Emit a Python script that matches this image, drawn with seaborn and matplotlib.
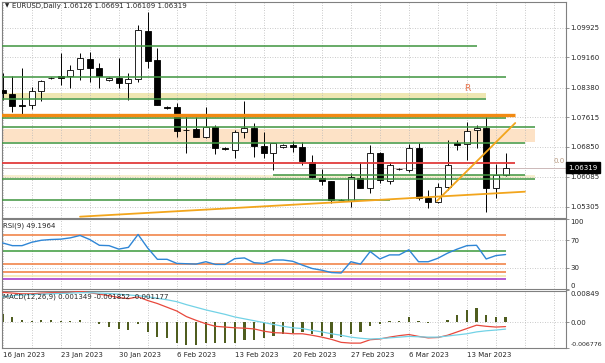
import matplotlib
matplotlib.use("Agg")
import matplotlib.pyplot as plt
import matplotlib.transforms as mtransforms
import seaborn as sns
import numpy as np
import pandas as pd

# Velas diarias EURUSD 16 ene - 17 mar 2023 (el broker incluye velas de domingo)
apertura = [1.08321, 1.08217, 1.07934, 1.07934, 1.08295, 1.08630, 1.08682, 1.08690, 1.08855, 1.09120,
            1.08880, 1.08571, 1.08638, 1.08509, 1.08604, 1.09851, 1.09095, 1.07877, 1.07890, 1.07296,
            1.07307, 1.07116, 1.07374, 1.06832, 1.06773, 1.07245, 1.07332, 1.06876, 1.06703, 1.06842,
            1.06909, 1.06858, 1.06471, 1.06058, 1.05973, 1.05483, 1.05465, 1.06042, 1.05784, 1.06687,
            1.05981, 1.06285, 1.06257, 1.06816, 1.05526, 1.05423, 1.05826, 1.06960, 1.06920, 1.07289,
            1.07332, 1.05784, 1.06126]
maximo = [1.08751, 1.08690, 1.08880, 1.08406, 1.08579, 1.08664, 1.09283, 1.08966, 1.09267, 1.09309,
          1.09009, 1.08650, 1.09138, 1.08751, 1.09998, 1.10341, 1.09396, 1.07908, 1.07977, 1.07676,
          1.07616, 1.07890, 1.07418, 1.06845, 1.07289, 1.08045, 1.07461, 1.07245, 1.06961, 1.06920,
          1.07013, 1.06987, 1.06644, 1.06275, 1.05980, 1.05500, 1.06171, 1.06471, 1.06902, 1.06729,
          1.06471, 1.06300, 1.06927, 1.06945, 1.05741, 1.05929, 1.07031, 1.07031, 1.07503, 1.07418,
          1.07632, 1.06411, 1.06691]
minimo = [1.08063, 1.07761, 1.07676, 1.07830, 1.08045, 1.08604, 1.08450, 1.08364, 1.08579, 1.08535,
          1.08380, 1.08560, 1.08380, 1.08063, 1.08535, 1.08880, 1.07921, 1.07818, 1.07116, 1.06703,
          1.07100, 1.07074, 1.06669, 1.06780, 1.06558, 1.07074, 1.06600, 1.06558, 1.06257, 1.06835,
          1.06729, 1.06386, 1.06042, 1.05870, 1.05413, 1.05475, 1.05310, 1.05784, 1.05671, 1.05913,
          1.05895, 1.06260, 1.06213, 1.05483, 1.05268, 1.05397, 1.05741, 1.06773, 1.06515, 1.06816,
          1.05181, 1.05526, 1.06109]
cierre = [1.08235, 1.07916, 1.07908, 1.08295, 1.08561, 1.08643, 1.08643, 1.08837, 1.09138, 1.08896,
          1.08690, 1.08638, 1.08509, 1.08604, 1.09869, 1.09077, 1.07934, 1.07856, 1.07271, 1.07281,
          1.07116, 1.07374, 1.06816, 1.06791, 1.07229, 1.07332, 1.06876, 1.06687, 1.06961, 1.06909,
          1.06842, 1.06497, 1.06084, 1.05973, 1.05483, 1.05490, 1.06068, 1.05800, 1.06687, 1.05999,
          1.06386, 1.06270, 1.06832, 1.05526, 1.05423, 1.05826, 1.06386, 1.06910, 1.07271, 1.07348,
          1.05800, 1.06128, 1.06319]

rsi = [66.0, 62.1, 62.1, 67.0, 69.9, 71.0, 71.5, 73.4, 76.9, 71.0,
       62.6, 62.1, 57.1, 59.6, 78.3, 58.6, 42.3, 42.3, 36.4, 35.9,
       35.4, 38.8, 34.9, 34.9, 43.3, 44.3, 37.4, 36.4, 41.3, 41.3,
       39.4, 33.9, 29.0, 26.5, 23.1, 22.5, 38.8, 35.4, 53.6, 42.8,
       48.7, 48.7, 56.1, 38.8, 38.8, 43.8, 51.2, 57.1, 62.1, 62.6,
       42.8, 47.7, 49.2]

macd_rojo = [0.0080, 0.0078, 0.0076, 0.0076, 0.0078, 0.0079, 0.0079, 0.0080, 0.0083, 0.0079,
             0.0075, 0.0071, 0.0066, 0.0063, 0.0068, 0.0058, 0.0050, 0.0040, 0.0030, 0.0015,
             0.0005, -0.0004, -0.0011, -0.0013, -0.0015, -0.0016, -0.0018, -0.0024, -0.0028, -0.0029,
             -0.0031, -0.0031, -0.0035, -0.0040, -0.0046, -0.0054, -0.0056, -0.0056, -0.0047, -0.0045,
             -0.0040, -0.0036, -0.0033, -0.0038, -0.0042, -0.0041, -0.0035, -0.0026, -0.0017, -0.0008,
             -0.0011, -0.0013, -0.00118]
macd_cian = [0.0068, 0.0071, 0.0073, 0.0074, 0.0075, 0.0076, 0.0077, 0.0078, 0.0079, 0.0079,
             0.0078, 0.0077, 0.0075, 0.0073, 0.0071, 0.0068, 0.0064, 0.0060, 0.0055, 0.0047,
             0.0040, 0.0033, 0.0027, 0.0021, 0.0014, 0.0009, 0.0004, -0.0001, -0.0006, -0.0011,
             -0.0015, -0.0017, -0.0022, -0.0026, -0.0031, -0.0035, -0.0040, -0.0043, -0.0045, -0.0044,
             -0.0042, -0.0040, -0.0038, -0.0039, -0.0040, -0.0040, -0.0037, -0.0034, -0.0031, -0.0026,
             -0.0023, -0.0021, -0.00185]
macd_hist = [0.0023, 0.0014, 0.0006, 0.00045, 0.0006, 0.0006, 0.00045, 0.00045, 0.0007, 0.0001,
             -0.0006, -0.0012, -0.0018, -0.0021, -0.0006, -0.0027, -0.0039, -0.0041, -0.0057, -0.0061,
             -0.0061, -0.0057, -0.0057, -0.0055, -0.0055, -0.0049, -0.0049, -0.0041, -0.0036, -0.0032,
             -0.0030, -0.0027, -0.0032, -0.0036, -0.0041, -0.0039, -0.0032, -0.0027, -0.0009, -0.0006,
             0.0003, 0.00045, 0.0014, 0.00045, -0.0002, 0.0001, 0.0006, 0.0020, 0.0032, 0.0038,
             0.0020, 0.0014, 0.00135]

etiquetas_fecha = ["16 Jan 2023", "23 Jan 2023", "30 Jan 2023", "6 Feb 2023", "13 Feb 2023",
                   "20 Feb 2023", "27 Feb 2023", "6 Mar 2023", "13 Mar 2023"]
pos_fecha = [0, 6, 12, 18, 24, 30, 36, 42, 48]

precios_eje = [1.05305, 1.06085, 1.06850, 1.07615, 1.08380, 1.09160, 1.09925]
rsi_eje = [0, 30, 70, 100]
macd_eje = [-0.006776, 0.0, 0.00849]
macd_eje_txt = ["-0.006776", "0.00", "0.00849"]

# objetos dibujados en el grafico
verde_precio = [1.09464, 1.08664, 1.08081, 1.07590, 1.07366, 1.06966, 1.06128, 1.06017, 1.05483]
verde_inicio = [-1, -1, -1, -1, -1, -1, 28, -1, -1]
verde_fin = [49, 52, 50, 52, 55, 54, 54, 55, 40]
banda_amarilla = (1.08106, 1.08235, 50)
banda_salmon = (1.06987, 1.07307, 55)
banda_clara = (1.06040, 1.06135, 55)
naranja_grueso = (1.07663, 53)
linea_roja = (1.06437, 53)
bid = 1.06319
tendencia1_x = [8.0, 54.0]
tendencia1_y = [1.05052, 1.05697]
tendencia2_x = [44.9, 53.0]
tendencia2_y = [1.05457, 1.07469]
rsi_niveles = [77.5, 54.5, 35.0, 23.5, 18.0, 13.3]
rsi_colores = ["#f07a3a", "#3a9a3a", "#f07a3a", "#f07a3a", "#f2e6a8", "#a22cc8"]

sns.set_style("white")
plt.rcParams['font.family'] = ['DejaVu Sans']
fs = 5.0

W, H = 605, 363
fig = plt.figure(figsize=(W / 100, H / 100), dpi=100)

def caja(top, bottom):
    return [2 / W, 1 - bottom / H, 564 / W, (bottom - top) / H]

ax = fig.add_axes(caja(1.5, 217.5))
ax_rsi = fig.add_axes(caja(219.5, 288.5), sharex=ax)
ax_macd = fig.add_axes(caja(290.5, 347.5), sharex=ax)

idx = np.arange(len(cierre))
df = pd.DataFrame({"i": idx, "o": apertura, "h": maximo, "l": minimo, "c": cierre,
                   "rsi": rsi, "rojo": macd_rojo, "cian": macd_cian, "hist": macd_hist})

verde = "#3f943f"
rejilla = dict(color="#b8b8b8", linestyle=(0, (1, 2)), linewidth=0.6)

# ---- panel principal ----
ax.fill_between([-1, banda_amarilla[2]], banda_amarilla[0], banda_amarilla[1], color="#efe7b2", lw=0, zorder=0.5)
ax.fill_between([-1, banda_salmon[2]], banda_salmon[0], banda_salmon[1], color="#fde2c6", lw=0, zorder=0.5)
ax.fill_between([-1, banda_clara[2]], banda_clara[0], banda_clara[1], color="#f6efcf", lw=0, zorder=0.5)

alcista = df["c"] >= df["o"]
ax.vlines(df["i"], df["l"], df["h"], color="black", lw=0.7, zorder=2.5)
cuerpo = (df["c"] - df["o"]).abs().clip(lower=0.00012)
ax.bar(df["i"], cuerpo, bottom=df[["o", "c"]].min(axis=1), width=0.62,
       color=np.where(alcista, "white", "black"), edgecolor="black", lw=0.6, zorder=3)

ax.hlines(verde_precio, verde_inicio, verde_fin, color=verde, lw=1.1, zorder=4)
ax.hlines(naranja_grueso[0], -1, naranja_grueso[1], color="#f28a12", lw=2.4, zorder=4)
ax.hlines(linea_roja[0], -1, linea_roja[1], color="#e23c3c", lw=1.3, zorder=4)
ax.axhline(bid, color="#ccb8b8", lw=0.7, zorder=2)
sns.lineplot(x=tendencia1_x, y=tendencia1_y, ax=ax, color="#f2a51c", lw=1.3, zorder=4)
sns.lineplot(x=tendencia2_x, y=tendencia2_y, ax=ax, color="#f2a51c", lw=1.3, zorder=4)

ax.text(48, 1.08364, "R", color="#e8744c", fontsize=6.5, ha="center", va="center", zorder=5)
ax.text(0.998, 1.06489, "0.0", color="#b89a80", fontsize=fs, ha="right", va="center",
        transform=mtransforms.blended_transform_factory(ax.transAxes, ax.transData))
ax.text(1.004, bid, "1.06319", color="white", fontsize=fs, ha="left", va="center",
        transform=mtransforms.blended_transform_factory(ax.transAxes, ax.transData),
        bbox=dict(facecolor="black", edgecolor="black", pad=1.5), zorder=6, clip_on=False)
ax.text(0.0053, 0.979, "▼", fontsize=4, ha="left", va="center", transform=ax.transAxes)
ax.text(0.0177, 0.979, "EURUSD,Daily 1.06126 1.06691 1.06109 1.06319", fontsize=fs,
        ha="left", va="center", transform=ax.transAxes)

ax.set_ylim(1.05031, 1.10604)
ax.set_yticks(precios_eje)
ax.set_yticklabels([f"{p:.5f}" for p in precios_eje])

# ---- RSI ----
ax_rsi.hlines(rsi_niveles, -1, 52, colors=rsi_colores, lw=1.1, zorder=2)
sns.lineplot(data=df, x="i", y="rsi", ax=ax_rsi, color="#2f86d6", lw=1.0, zorder=3)
ax_rsi.set_ylim(0, 100)
ax_rsi.set_yticks(rsi_eje)
ax_rsi.set_yticklabels([str(v) for v in rsi_eje])
ax_rsi.text(0.002, 0.913, "RSI(9) 49.1964", fontsize=fs, ha="left", va="center", transform=ax_rsi.transAxes)

# ---- MACD ----
ax_macd.bar(df["i"], df["hist"], width=0.22, color="#4f5d1f", lw=0, antialiased=False, zorder=2)
sns.lineplot(data=df, x="i", y="rojo", ax=ax_macd, color="#e8483c", lw=0.9, zorder=3)
sns.lineplot(data=df, x="i", y="cian", ax=ax_macd, color="#72d2e6", lw=0.9, zorder=3)
ax_macd.set_ylim(macd_eje[0], macd_eje[-1])
ax_macd.set_yticks(macd_eje)
ax_macd.set_yticklabels(macd_eje_txt)
ax_macd.text(0.002, 0.891, "MACD(12,26,9) 0.001349 -0.001852 -0.001177", fontsize=fs,
             ha="left", va="center", transform=ax_macd.transAxes)

# ---- ejes comunes ----
rejilla_x = list(range(0, 58, 3))
for a in (ax, ax_rsi, ax_macd):
    a.set_xlim(-0.07, 58.25)
    a.set_xlabel("")
    a.set_ylabel("")
    a.yaxis.tick_right()
    a.tick_params(axis="y", length=2, width=0.6, pad=1.2, labelsize=fs, color="#808080")
    a.grid(True, **rejilla)
    a.set_axisbelow(True)
    for s in a.spines.values():
        s.set_color("#808080")
        s.set_linewidth(0.8)
    a.set_xticks(rejilla_x)

ax.tick_params(axis="x", length=0, labelbottom=False)
ax_rsi.tick_params(axis="x", length=0, labelbottom=False)
textos_x = ["" for _ in rejilla_x]
for p, t in zip(pos_fecha, etiquetas_fecha):
    textos_x[rejilla_x.index(p)] = t
ax_macd.set_xticklabels(textos_x)
ax_macd.tick_params(axis="x", length=2, width=0.6, pad=1.5, labelsize=fs, color="#808080")
for lab in ax_macd.get_xticklabels():
    lab.set_ha("left")

for a in (ax_rsi, ax_macd):
    labs = a.get_yticklabels()
    labs[0].set_va("bottom")
    labs[-1].set_va("top")
# la etiqueta inferior del MACD es la mas larga: un poco mas pequena para que quepa
ax_macd.get_yticklabels()[0].set_fontsize(4.5)

fig.savefig("out.png", dpi=100)
